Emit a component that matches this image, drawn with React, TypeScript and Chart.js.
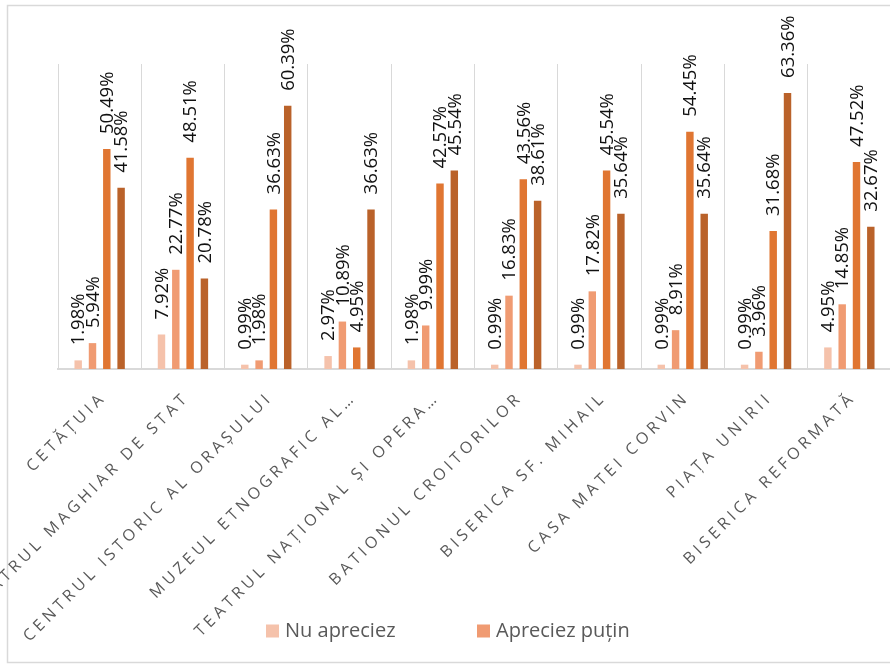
import React, { useEffect, useRef } from "react";
import { Chart, registerables } from "chart.js";

Chart.register(...registerables);

const categories = [
  "CETĂȚUIA",
  "TEATRUL MAGHIAR DE STAT",
  "CENTRUL ISTORIC AL ORAȘULUI",
  "MUZEUL ETNOGRAFIC AL…",
  "TEATRUL NAȚIONAL ȘI OPERA…",
  "BATIONUL CROITORILOR",
  "BISERICA SF. MIHAIL",
  "CASA MATEI CORVIN",
  "PIAȚA UNIRII",
  "BISERICA REFORMATĂ",
];

const seriesNames = ["Nu apreciez", "Apreciez puțin", "Apreciez mult", "Apreciez foarte mult"];

const nuApreciez = [1.98, 7.92, 0.99, 2.97, 1.98, 0.99, 0.99, 0.99, 0.99, 4.95];
const apreciezPutin = [5.94, 22.77, 1.98, 10.89, 9.99, 16.83, 17.82, 8.91, 3.96, 14.85];
const apreciezMult = [50.49, 48.51, 36.63, 4.95, 42.57, 43.56, 45.54, 54.45, 31.68, 47.52];
const apreciezFoarteMult = [41.58, 20.78, 60.39, 36.63, 45.54, 38.61, 35.64, 35.64, 63.36, 32.67];

const seriesColors = ["#F5C2AB", "#F09B72", "#E07632", "#BA622A"];
const legendShown = 2;

const FONT = "'Open Sans', Lato, sans-serif";

const framePlugin = {
  id: "frame",
  beforeDraw(chart: any) {
    const { ctx, width } = chart;
    ctx.save();
    ctx.fillStyle = "#ffffff";
    ctx.fillRect(0, 0, width, chart.height);
    ctx.strokeStyle = "#d9d9d9";
    ctx.lineWidth = 1.5;
    ctx.strokeRect(7.5, 5.5, width + 20, 657);
    ctx.restore();
  },
};

const labelsPlugin = {
  id: "customLabels",
  afterDatasetsDraw(chart: any) {
    const { ctx } = chart;
    ctx.save();
    ctx.fillStyle = "#111111";
    ctx.font = `18.5px ${FONT}`;
    ctx.textAlign = "left";
    ctx.textBaseline = "middle";
    chart.data.datasets.forEach((ds: any, di: number) => {
      const meta = chart.getDatasetMeta(di);
      meta.data.forEach((el: any, i: number) => {
        const v = ds.data[i];
        ctx.save();
        ctx.translate(el.x + 1, el.y - 15);
        ctx.rotate(-Math.PI / 2);
        ctx.fillText(v.toFixed(2) + "%", 0, 0);
        ctx.restore();
      });
    });
    ctx.restore();
  },
  afterDraw(chart: any) {
    const { ctx, chartArea } = chart;
    const xScale = chart.scales.x;
    // category labels
    ctx.save();
    ctx.fillStyle = "#595959";
    ctx.font = `16px ${FONT}`;
    (ctx as any).letterSpacing = "4px";
    ctx.textAlign = "right";
    ctx.textBaseline = "middle";
    categories.forEach((c, i) => {
      const x = xScale.getPixelForValue(i);
      ctx.save();
      ctx.translate(x + 4, chartArea.bottom + 26);
      ctx.rotate(-Math.PI / 4);
      ctx.fillText(c, 0, 0);
      ctx.restore();
    });
    ctx.restore();
    // legend
    ctx.save();
    ctx.font = `20px ${FONT}`;
    ctx.textAlign = "left";
    ctx.textBaseline = "middle";
    const y = 631;
    const step = 211;
    const x0 = chartArea.left + 208;
    for (let i = 0; i < legendShown; i++) {
      const x = x0 + i * step;
      ctx.fillStyle = seriesColors[i];
      ctx.fillRect(x, y - 6.5, 13, 13);
      ctx.fillStyle = "#595959";
      ctx.fillText(seriesNames[i], x + 19, y);
    }
    ctx.restore();
  },
};

export default function App() {
  const ref = useRef<HTMLCanvasElement>(null);
  useEffect(() => {
    if (!ref.current) return;
    const values = [nuApreciez, apreciezPutin, apreciezMult, apreciezFoarteMult];
    const chart = new Chart(ref.current, {
      type: "bar",
      data: {
        labels: categories,
        datasets: values.map((d, i) => ({
          label: seriesNames[i],
          data: d,
          backgroundColor: seriesColors[i],
          borderWidth: 0,
          categoryPercentage: 0.687,
          barPercentage: 0.52,
        })),
      },
      options: {
        animation: false,
        responsive: false,
        devicePixelRatio: 1,
        layout: { padding: { left: 58, right: 9, top: 64, bottom: 298 } },
        plugins: {
          legend: { display: false },
          tooltip: { enabled: false },
        },
        scales: {
          x: {
            offset: true,
            grid: {
              display: true,
              offset: true,
              color: "#d9d9d9",
              lineWidth: 1,
              drawTicks: false,
            },
            border: { display: true, color: "#d9d9d9", width: 2 },
            ticks: { display: false },
          },
          y: {
            display: false,
            min: 0,
            max: 70,
          },
        },
      },
      plugins: [framePlugin, labelsPlugin],
    });
    return () => chart.destroy();
  }, []);
  return (
    <div style={{ position: "fixed", left: 0, top: 0, width: 890, height: 667, overflow: "hidden", background: "#fff" }}>
      <canvas ref={ref} width={900} height={667} style={{ display: "block", width: 900, height: 667 }} />
    </div>
  );
}
